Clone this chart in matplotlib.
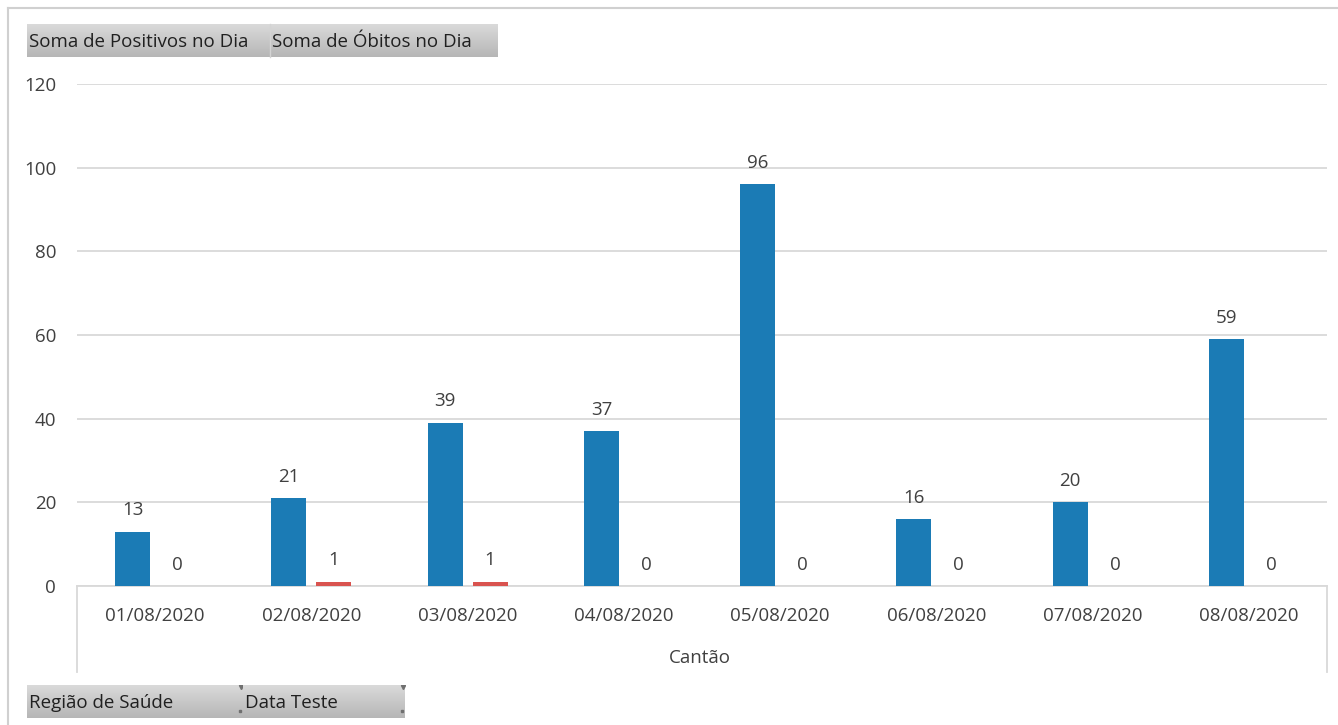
import numpy as np
import matplotlib
matplotlib.use('Agg')
import matplotlib.pyplot as plt
from matplotlib.lines import Line2D

plt.rcParams['font.family'] = ['Open Sans', 'DejaVu Sans']

datas = ['01/08/2020', '02/08/2020', '03/08/2020', '04/08/2020',
         '05/08/2020', '06/08/2020', '07/08/2020', '08/08/2020']
positivos = [13, 21, 39, 37, 96, 16, 20, 59]
obitos = [0, 1, 1, 0, 0, 0, 0, 0]
yticks = [0, 20, 40, 60, 80, 100, 120]

txt = '#404040'
grid = '#D9D9D9'
W, H = 1338, 725

fig = plt.figure(figsize=(W / 100, H / 100), dpi=100)

# plot area
left, right, top, bottom = 77, 1327, 84, 586
ax = fig.add_axes([left / W, 1 - bottom / H, (right - left) / W, (bottom - top) / H])

x = np.arange(len(datas))
off, bw = 0.144, 0.224
b1 = ax.bar(x - off, positivos, width=bw, color='#1B7BB5', zorder=3)
b2 = ax.bar(x + off, obitos, width=bw, color='#D9534F', zorder=3)

for bars, vals in ((b1, positivos), (b2, obitos)):
    for r, v in zip(bars, vals):
        ax.annotate(str(v), (r.get_x() + r.get_width() / 2, v),
                    xytext=(0, 9), textcoords='offset points',
                    ha='center', va='bottom', fontsize=13.5, color=txt)

ax.set_xlim(-0.5, len(datas) - 0.5)
ax.set_ylim(0, 120)
ax.set_yticks(yticks)
ax.set_xticks(x)
ax.set_xticklabels(datas)
ax.grid(axis='y', color=grid, linewidth=1.3, zorder=0)
for s in ['left', 'right', 'top']:
    ax.spines[s].set_visible(False)
ax.spines['bottom'].set_color(grid)
ax.spines['bottom'].set_linewidth(1.3)
ax.tick_params(axis='both', length=0, labelsize=13.5, labelcolor=txt)
ax.tick_params(axis='y', pad=15)
ax.tick_params(axis='x', pad=15)

# category box lines and title
for xx in (left, right):
    fig.add_artist(Line2D([xx / W, xx / W], [1 - bottom / H, 1 - 672 / H],
                          color=grid, linewidth=1.3))
fig.text(700 / W, 1 - 658 / H, 'Cantão', ha='center', va='center',
         fontsize=13.5, color=txt)

# outer border
fig.add_artist(Line2D([8 / W, 8 / W], [0, 1 - 8 / H], color='#D0D0D0', linewidth=1.5))
fig.add_artist(Line2D([8 / W, 1], [1 - 8 / H, 1 - 8 / H], color='#D0D0D0', linewidth=1.5))

# field buttons (light-to-darker grey gradient)
g = np.linspace(0xDA, 0xB6, 50) / 255
grad = np.dstack([g, g, g]).reshape(-1, 1, 3)


def button(x0, x1, y0, y1, label, arrow=False):
    bax = fig.add_axes([x0 / W, 1 - y1 / H, (x1 - x0) / W, (y1 - y0) / H])
    bax.imshow(grad, aspect='auto', extent=(0, 1, 0, 1))
    bax.set_xlim(0, 1)
    bax.set_ylim(0, 1)
    bax.axis('off')
    bax.text(2 / (x1 - x0), 0.45, label, ha='left', va='center',
             fontsize=13.5, color='#202020')
    if arrow:
        bax.plot([1 - 2 / (x1 - x0)], [0.93], marker='v', ms=3, color='#707070')
        bax.plot([1 - 3 / (x1 - x0)], [0.2], marker='s', ms=1.5, color='#707070')


button(27, 270, 24, 57, 'Soma de Positivos no Dia')
button(270, 497, 24, 57, 'Soma de Óbitos no Dia')
button(27, 243, 685, 718, 'Região de Saúde', arrow=True)
button(243, 405, 685, 718, 'Data Teste', arrow=True)
fig.add_artist(Line2D([270 / W, 270 / W], [1 - 57 / H, 1 - 24 / H],
                      color='#D4D4D4', linewidth=1))

fig.savefig('out.png', dpi=100)
